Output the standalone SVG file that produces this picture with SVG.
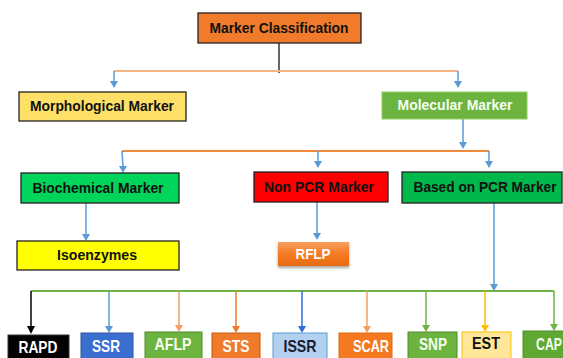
<svg xmlns="http://www.w3.org/2000/svg" width="563" height="358" viewBox="0 0 563 358">
<defs>
<style>
text{font-family:"Liberation Sans",Arial,sans-serif;font-weight:bold;font-size:15.5px;text-anchor:middle}
.b{font-size:16.5px}
.k{stroke:#222;stroke-width:1.3}
.w{fill:#fff}
</style>
<linearGradient id="og" x1="0" y1="0" x2="0" y2="1"><stop offset="0" stop-color="#F7A060"/><stop offset="0.5" stop-color="#F47A22"/><stop offset="1" stop-color="#E86A10"/></linearGradient>
<filter id="sh" x="-20%" y="-20%" width="140%" height="160%"><feDropShadow dx="0" dy="2" stdDeviation="1.5" flood-color="#000" flood-opacity="0.35"/></filter>
</defs>
<g id="connectors">
<g fill="none" stroke-width="1.5">
<path d="M279,39 V73" stroke="#333"/>
<path d="M114,71 H458" stroke="#F4B183" stroke-width="2"/>
<path d="M114,71 V82 M458,71 V82" stroke="#5B9BD5"/>
<path d="M463,119 V143" stroke="#5B9BD5"/>
<path d="M122,151 H489" stroke="#F08A3A" stroke-width="2.2"/>
<path d="M122,151 L123,167 M318,151 V162 M489,151 V162" stroke="#5B9BD5"/>
<path d="M86,203 V235 M317,202 V234 M494,203 V285" stroke="#5B9BD5"/>
<path d="M31,291 H554" stroke="#70B443" stroke-width="2"/>
<path d="M31,291 V327" stroke="#000"/>
<path d="M109,291 V327" stroke="#5B9BD5"/>
<path d="M179,291 V326" stroke="#F4A060"/>
<path d="M236,291 V327" stroke="#F07B2A"/>
<path d="M302,291 V327" stroke="#2F6BD6"/>
<path d="M367,291 V327" stroke="#F4A060"/>
<path d="M426,291 V326" stroke="#70B443"/>
<path d="M485,291 V326" stroke="#FFC000"/>
<path d="M554,291 V325" stroke="#70B443"/>
</g>
<g stroke="none">
<path d="M110,81 h8 l-4,7 z M454,81 h8 l-4,7 z M459,142 h8 l-4,7 z" fill="#5B9BD5"/>
<path d="M119,166 h8 l-4,7 z M314,161 h8 l-4,7 z M485,161 h8 l-4,7 z" fill="#5B9BD5"/>
<path d="M82,234 h8 l-4,7 z M313,233 h8 l-4,7 z M490,284 h8 l-4,7 z" fill="#5B9BD5"/>
<path d="M27,326 h8 l-4,8 z" fill="#000"/>
<path d="M105,326 h8 l-4,7 z" fill="#5B9BD5"/>
<path d="M175,325 h8 l-4,7 z" fill="#F4A060"/>
<path d="M232,326 h8 l-4,7 z" fill="#F07B2A"/>
<path d="M298,326 h8 l-4,7 z" fill="#2F6BD6"/>
<path d="M363,326 h8 l-4,7 z" fill="#F4A060"/>
<path d="M422,325 h8 l-4,7 z" fill="#70B443"/>
<path d="M481,325 h8 l-4,7 z" fill="#FFC000"/>
<path d="M550,324 h8 l-4,7 z" fill="#70B443"/>
</g>
</g>
<g id="n-root"><rect x="198" y="13" width="163" height="30" fill="#F07B2A" class="k"/><text x="279" y="33" textLength="139" lengthAdjust="spacingAndGlyphs" fill="#111">Marker Classification</text></g>
<g id="n-morph"><rect x="19" y="92" width="167" height="29" fill="#FFE066" class="k"/><text x="102" y="111" textLength="144" lengthAdjust="spacingAndGlyphs" fill="#111">Morphological Marker</text></g>
<g id="n-mol"><rect x="382" y="92" width="145" height="27" fill="#6DB33F" stroke="#8FD060" stroke-width="1"/><text x="455" y="110" textLength="115" lengthAdjust="spacingAndGlyphs" fill="#F4FFF0">Molecular Marker</text></g>
<g id="n-bio"><rect x="21" y="173" width="158" height="30" fill="#00D45A" class="k"/><text x="98" y="193" textLength="131" lengthAdjust="spacingAndGlyphs" fill="#111">Biochemical Marker</text></g>
<g id="n-nonpcr"><rect x="254" y="172" width="134" height="30" fill="#FF0000" class="k"/><text x="319" y="192" textLength="110" lengthAdjust="spacingAndGlyphs" fill="#111">Non PCR Marker</text></g>
<g id="n-pcr"><rect x="402" y="172" width="160" height="31" fill="#00B84C" class="k"/><text x="485" y="192" textLength="143" lengthAdjust="spacingAndGlyphs" fill="#111">Based on PCR Marker</text></g>
<g id="n-iso"><rect x="17" y="241" width="162" height="29" fill="#FFFF00" class="k"/><text x="97" y="260" textLength="80" lengthAdjust="spacingAndGlyphs" fill="#111">Isoenzymes</text></g>
<g id="n-rflp"><rect x="278" y="242" width="71" height="24" fill="url(#og)" filter="url(#sh)"/><text x="313" y="259" textLength="35" lengthAdjust="spacingAndGlyphs" class="w">RFLP</text></g>
<g id="n-rapd"><rect x="8" y="335" width="61" height="30" fill="#000" stroke="#333"/><text x="38" y="353" textLength="39" lengthAdjust="spacingAndGlyphs" class="w b">RAPD</text></g>
<g id="n-ssr"><rect x="81" y="333" width="52" height="30" fill="#3A6FD0" stroke="#2F5597"/><text x="106" y="352" textLength="28" lengthAdjust="spacingAndGlyphs" class="w b">SSR</text></g>
<g id="n-aflp"><rect x="145" y="332" width="57" height="30" fill="#6DB33F" stroke="#4E8A2A"/><text x="173" y="350" textLength="37" lengthAdjust="spacingAndGlyphs" fill="#F4FFF0" class="b">AFLP</text></g>
<g id="n-sts"><rect x="212" y="333" width="48" height="30" fill="#F07B2A" stroke="#C55A11"/><text x="236" y="352" textLength="27" lengthAdjust="spacingAndGlyphs" class="w b">STS</text></g>
<g id="n-issr"><rect x="273" y="333" width="54" height="30" fill="#B4D0F0" stroke="#5B9BD5"/><text x="300" y="352" textLength="33" lengthAdjust="spacingAndGlyphs" fill="#1A1A2E" class="b">ISSR</text></g>
<g id="n-scar"><rect x="339" y="333" width="53" height="30" fill="#F47920" stroke="#E06A10"/><text x="371" y="352" textLength="36" lengthAdjust="spacingAndGlyphs" class="w b">SCAR</text></g>
<g id="n-snp"><rect x="408" y="332" width="49" height="30" fill="#6DB33F" stroke="#4E8A2A"/><text x="433" y="350" textLength="28" lengthAdjust="spacingAndGlyphs" fill="#F4FFF0" class="b">SNP</text></g>
<g id="n-est"><rect x="462" y="332" width="49" height="30" fill="#FFE699" stroke="#FFC000"/><text x="486" y="349" textLength="28" lengthAdjust="spacingAndGlyphs" fill="#111" class="b">EST</text></g>
<g id="n-cap"><rect x="523" y="331" width="50" height="30" fill="#5FA832" stroke="#4E8A2A"/><text x="536" y="350" textLength="26" lengthAdjust="spacingAndGlyphs" style="text-anchor:start" fill="#F4FFF0" class="b">CAP</text></g>
</svg>
